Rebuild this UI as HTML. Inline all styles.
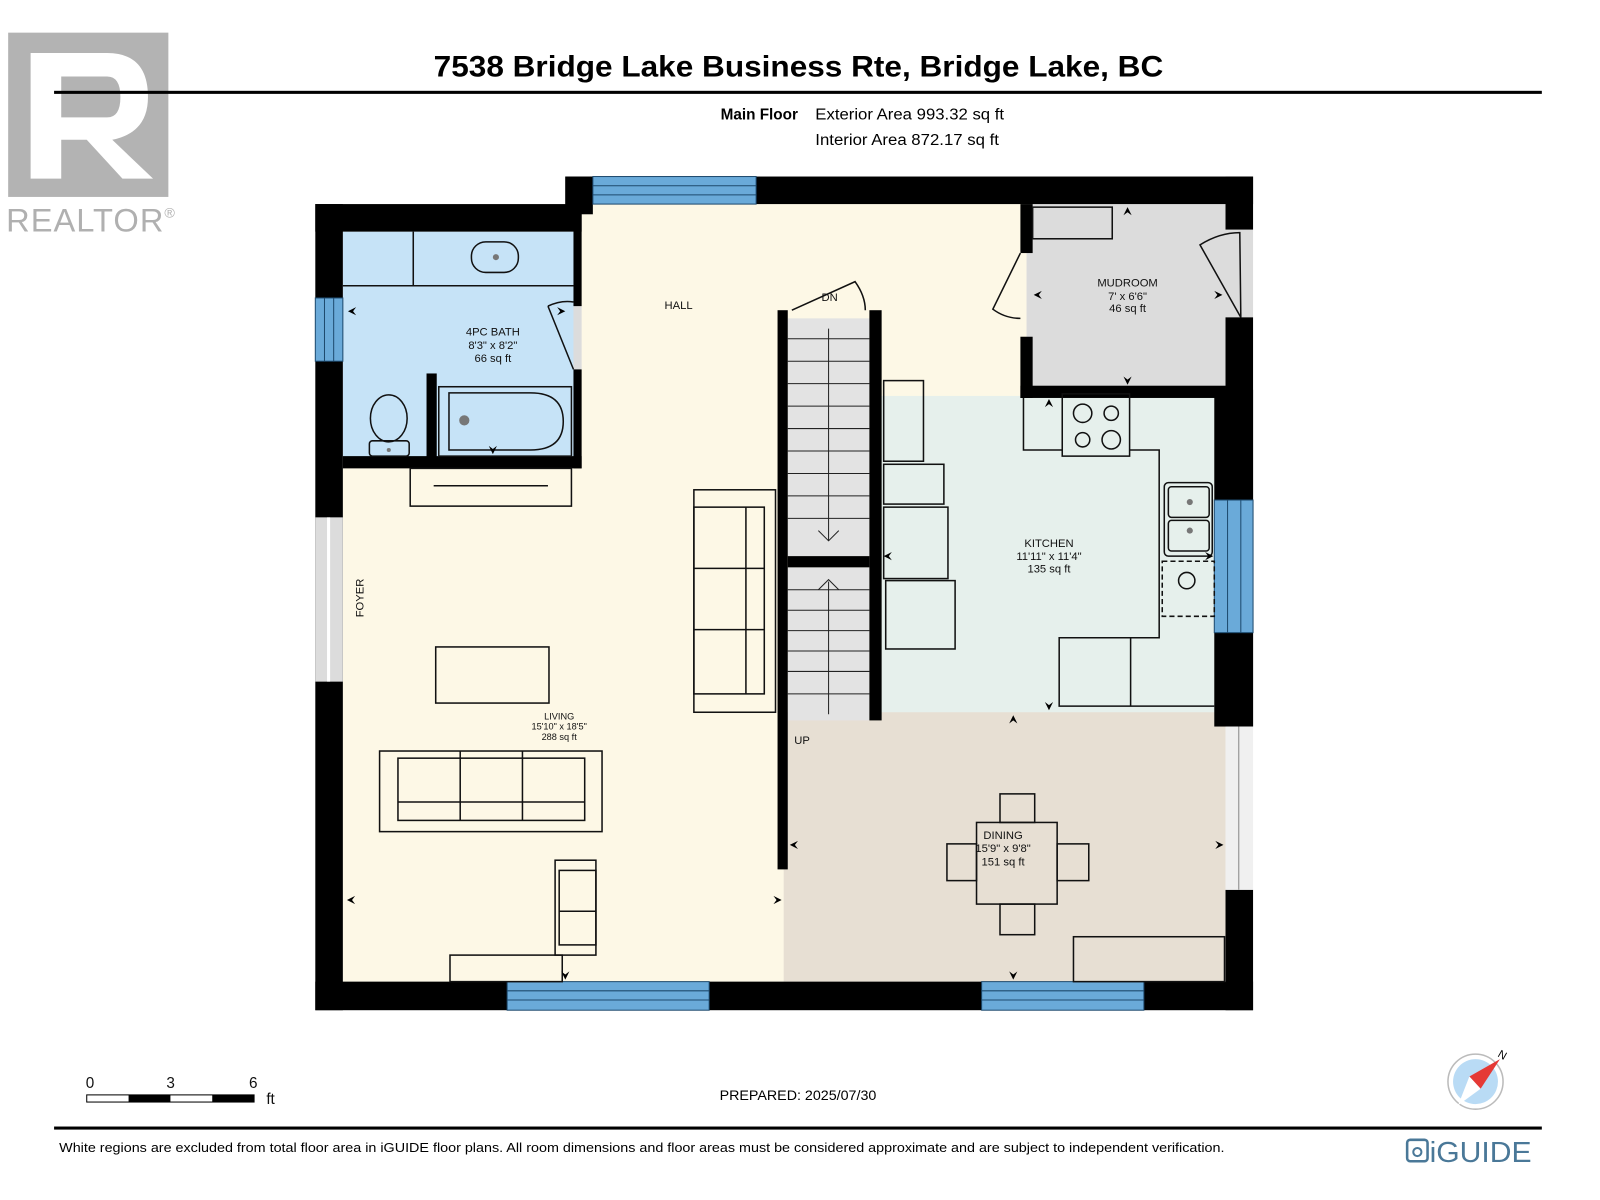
<!DOCTYPE html>
<html><head><meta charset="utf-8"><style>
html,body{margin:0;padding:0;background:#fff;}
svg{display:block;}
text{font-family:"Liberation Sans",Arial,sans-serif;}
</style></head><body>
<svg width="1600" height="1200" viewBox="0 0 1568 1176" xmlns="http://www.w3.org/2000/svg">
<rect width="1568" height="1176" fill="#fff"/>
<!-- REALTOR logo -->
<rect x="8" y="32" width="157" height="161" fill="#b3b3b3"/>
<path d="M30 52 H105 Q145 52 145 95 Q145 130 110 137 L150 175 H120 L85 137 H60 V175 H30 Z M60 75 V115 H105 Q118 115 118 95 Q118 75 105 75 Z" fill="#fff"/>
<text x="6" y="227" font-size="32" fill="#b0b0b0" letter-spacing="1">REALTOR<tspan font-size="14" dy="-14">®</tspan></text>
<!-- Title -->
<text x="425" y="75" font-size="29" font-weight="bold" textLength="715" lengthAdjust="spacingAndGlyphs">7538 Bridge Lake Business Rte, Bridge Lake, BC</text>
<rect x="53" y="89" width="1458" height="3" fill="#000"/>
<text x="782" y="117" font-size="15" font-weight="bold" text-anchor="end">Main Floor</text>
<text x="799" y="117" font-size="15" textLength="185" lengthAdjust="spacingAndGlyphs">Exterior Area 993.32 sq ft</text>
<text x="799" y="142" font-size="15" textLength="180" lengthAdjust="spacingAndGlyphs">Interior Area 872.17 sq ft</text>

<!-- floors -->
<rect x="336" y="200" width="670" height="762" fill="#fdf8e6"/>
<rect x="336" y="227" width="230" height="222" fill="#c6e3f7"/>
<rect x="1006" y="200" width="196" height="182" fill="#dcdcdc"/>
<rect x="862" y="388" width="330" height="312" fill="#e6f0ec"/>
<rect x="768" y="698" width="434" height="264" fill="#e7dfd3"/>
<rect x="1200" y="225" width="28" height="86" fill="#dcdcdc"/>
<rect x="562" y="300" width="8" height="62" fill="#dcdcdc"/>
<!-- stair treads -->
<rect x="772" y="312" width="80" height="233" fill="#e3e3e3"/>
<rect x="772" y="556" width="80" height="150" fill="#e3e3e3"/>
<g stroke="#222" stroke-width="1">
<line x1="772" y1="332" x2="852" y2="332"/><line x1="772" y1="354" x2="852" y2="354"/><line x1="772" y1="376" x2="852" y2="376"/><line x1="772" y1="398" x2="852" y2="398"/><line x1="772" y1="420" x2="852" y2="420"/><line x1="772" y1="442" x2="852" y2="442"/><line x1="772" y1="464" x2="852" y2="464"/><line x1="772" y1="486" x2="852" y2="486"/><line x1="772" y1="508" x2="852" y2="508"/>
<line x1="772" y1="578" x2="852" y2="578"/><line x1="772" y1="598" x2="852" y2="598"/><line x1="772" y1="618" x2="852" y2="618"/><line x1="772" y1="638" x2="852" y2="638"/><line x1="772" y1="658" x2="852" y2="658"/><line x1="772" y1="680" x2="852" y2="680"/>
<line x1="812" y1="322" x2="812" y2="530"/><polyline points="802,520 812,530 822,520" fill="none"/>
<line x1="812" y1="570" x2="812" y2="700"/><polyline points="802,578 812,568 822,578" fill="none"/>
</g>

<!-- walls -->
<g fill="#000">
<rect x="309" y="200" width="261" height="27"/>
<rect x="554" y="173" width="674" height="27"/>
<rect x="554" y="173" width="27" height="37"/>
<rect x="309" y="200" width="27" height="790"/>
<rect x="309" y="962" width="919" height="28"/>
<rect x="1201" y="173" width="27" height="52"/>
<rect x="1201" y="311" width="27" height="401"/>
<rect x="1190" y="382" width="38" height="330"/>
<rect x="1201" y="872" width="27" height="118"/>
<rect x="562" y="200" width="8" height="100"/>
<rect x="562" y="362" width="8" height="97"/>
<rect x="336" y="447" width="234" height="12"/>
<rect x="418" y="366" width="10" height="84"/>
<rect x="1000" y="200" width="12" height="48"/>
<rect x="1000" y="330" width="12" height="60"/>
<rect x="1000" y="378" width="201" height="12"/>
<rect x="762" y="304" width="10" height="548"/>
<rect x="852" y="304" width="12" height="402"/>
<rect x="772" y="545" width="80" height="11"/>
</g>
<!-- windows -->
<g fill="#6aaad9" stroke="#1e4a6e" stroke-width="1">
<rect x="581" y="173" width="160" height="27"/><line x1="581" y1="182" x2="741" y2="182"/><line x1="581" y1="191" x2="741" y2="191"/>
<rect x="309" y="292" width="27" height="62"/><line x1="318" y1="292" x2="318" y2="354"/><line x1="327" y1="292" x2="327" y2="354"/>
<rect x="1190" y="490" width="38" height="130"/><line x1="1203" y1="490" x2="1203" y2="620"/><line x1="1216" y1="490" x2="1216" y2="620"/>
<rect x="497" y="962" width="198" height="28"/><line x1="497" y1="971" x2="695" y2="971"/><line x1="497" y1="980" x2="695" y2="980"/>
<rect x="962" y="962" width="159" height="28"/><line x1="962" y1="971" x2="1121" y2="971"/><line x1="962" y1="980" x2="1121" y2="980"/>
</g>
<rect x="309" y="507" width="27" height="161" fill="#dcdcdc"/><line x1="322" y1="507" x2="322" y2="668" stroke="#fff" stroke-width="3"/>
<rect x="1201" y="712" width="27" height="160" fill="#f0f0f0"/><line x1="1214" y1="712" x2="1214" y2="872" stroke="#888" stroke-width="1"/>

<g fill="none" stroke="#111" stroke-width="1.5">
<line x1="336" y1="280" x2="562" y2="280"/><line x1="405" y1="227" x2="405" y2="280"/>
<rect x="462" y="237" width="46" height="30" rx="14"/>
<rect x="430" y="379" width="130" height="68"/><path d="M440 385 H520 Q552 385 552 413 Q552 441 520 441 H440 Z"/>
<ellipse cx="381" cy="410" rx="18" ry="23"/><rect x="362" y="432" width="39" height="15" rx="3"/>
<line x1="537" y1="300" x2="562" y2="362"/><path d="M537 300 Q550 294 562 296"/>
<rect x="402" y="459" width="158" height="37"/>
<line x1="425" y1="476" x2="537" y2="476"/>
<rect x="427" y="634" width="111" height="55"/>
<rect x="372" y="736" width="218" height="79"/><rect x="390" y="743" width="183" height="61"/>
<line x1="451" y1="736" x2="451" y2="804"/><line x1="512" y1="736" x2="512" y2="804"/><line x1="390" y1="786" x2="573" y2="786"/>
<rect x="680" y="480" width="80" height="218"/><rect x="680" y="497" width="69" height="183"/>
<line x1="680" y1="557" x2="749" y2="557"/><line x1="680" y1="617" x2="749" y2="617"/><line x1="731" y1="497" x2="731" y2="680"/>
<rect x="544" y="843" width="40" height="93"/><rect x="548" y="853" width="36" height="73"/><line x1="548" y1="893" x2="584" y2="893"/>
<rect x="441" y="936" width="110" height="26"/>
<path d="M776 304 L838 276 Q848 290 848 304"/>
<rect x="866" y="373" width="39" height="79"/>
<rect x="866" y="455" width="59" height="39"/>
<rect x="866" y="497" width="63" height="70"/>
<rect x="868" y="569" width="68" height="67"/>
<polyline points="1003,390 1003,441 1041,441"/>
<rect x="1041" y="386" width="66" height="61"/>
<polyline points="1107,441 1136,441 1136,625 1038,625 1038,692 1190,692"/>
<line x1="1108" y1="625" x2="1108" y2="692"/>
<circle cx="1061" cy="405" r="9"/><circle cx="1089" cy="405" r="7"/><circle cx="1061" cy="431" r="7"/><circle cx="1089" cy="431" r="9"/>
<rect x="1141" y="473" width="47" height="72" rx="4"/><rect x="1145" y="477" width="40" height="30" rx="3"/><rect x="1145" y="510" width="40" height="30" rx="3"/>
<rect x="1139" y="550" width="51" height="54" stroke-dasharray="5,3"/><circle cx="1163" cy="569" r="8"/>
<rect x="1012" y="203" width="78" height="31"/>
<path d="M1000 248 L973 303 Q985 312 1000 312"/>
<path d="M1176 240 Q1195 228 1215 228 L1216 311 Z" stroke-width="1.5"/>
<rect x="957" y="806" width="79" height="80"/>
<rect x="980" y="778" width="34" height="28"/><rect x="980" y="886" width="34" height="30"/>
<rect x="928" y="827" width="29" height="36"/><rect x="1036" y="827" width="31" height="36"/>
<rect x="1052" y="918" width="148" height="44"/>
</g>
<g fill="#777"><circle cx="486" cy="252" r="3"/><circle cx="455" cy="412" r="5"/><circle cx="381" cy="441" r="2"/><circle cx="1166" cy="492" r="3"/><circle cx="1166" cy="520" r="3"/></g>

<g fill="#000">
<path d="M341 305 l8 -4 l-3 4 l3 4z"/><path d="M554 305 l-8 -4 l3 4 l-3 4z"/>
<path d="M483 445 l-4 -8 l4 3 l4 -3z"/>
<path d="M340 882 l8 -4 l-3 4 l3 4z"/><path d="M766 882 l-8 -4 l3 4 l-3 4z"/>
<path d="M554 960 l-4 -8 l4 3 l4 -3z"/>
<path d="M1013 289 l8 -4 l-3 4 l3 4z"/><path d="M1198 289 l-8 -4 l3 4 l-3 4z"/>
<path d="M1105 203 l-4 8 l4 -3 l4 3z"/><path d="M1105 377 l-4 -8 l4 3 l4 -3z"/>
<path d="M1028 391 l-4 8 l4 -3 l4 3z"/><path d="M1028 696 l-4 -8 l4 3 l4 -3z"/>
<path d="M866 545 l8 -4 l-3 4 l3 4z"/><path d="M1189 545 l-8 -4 l3 4 l-3 4z"/>
<path d="M993 701 l-4 8 l4 -3 l4 3z"/><path d="M993 960 l-4 -8 l4 3 l4 -3z"/>
<path d="M774 828 l8 -4 l-3 4 l3 4z"/><path d="M1199 828 l-8 -4 l3 4 l-3 4z"/>
</g>

<g font-size="11" fill="#111" text-anchor="middle">
<text x="665" y="303">HALL</text>
<text x="483" y="329">4PC BATH</text><text x="483" y="342">8'3" x 8'2"</text><text x="483" y="355">66 sq ft</text>
<text x="1105" y="281">MUDROOM</text><text x="1105" y="294">7' x 6'6"</text><text x="1105" y="306">46 sq ft</text>
<text x="1028" y="536">KITCHEN</text><text x="1028" y="549">11'11" x 11'4"</text><text x="1028" y="561">135 sq ft</text>
<text x="983" y="822">DINING</text><text x="983" y="835">15'9" x 9'8"</text><text x="983" y="848">151 sq ft</text>
<text x="813" y="295">DN</text>
<text x="786" y="729">UP</text>
<text x="356" y="586" transform="rotate(-90 356 586)">FOYER</text>
</g>
<g font-size="9" fill="#111" text-anchor="middle">
<text x="548" y="705">LIVING</text><text x="548" y="715">15'10" x 18'5"</text><text x="548" y="725">288 sq ft</text>
</g>

<g font-size="15" fill="#111">
<text x="84" y="1066">0</text><text x="163" y="1066">3</text><text x="244" y="1066">6</text><text x="261" y="1082">ft</text>
</g>
<rect x="85" y="1073" width="164" height="7" fill="#fff" stroke="#000" stroke-width="1"/>
<rect x="126" y="1073" width="41" height="7" fill="#000"/><rect x="208" y="1073" width="41" height="7" fill="#000"/>
<text x="782" y="1078" font-size="14" text-anchor="middle">PREPARED: 2025/07/30</text>
<circle cx="1446" cy="1060" r="27" fill="#fff" stroke="#bbb" stroke-width="1.5"/>
<circle cx="1446" cy="1060" r="22" fill="#b9dbf5"/>
<path d="M1470 1038 L1451 1067 L1440 1055 Z" fill="#e53935"/>
<path d="M1451 1067 L1440 1055 L1429 1083 Z" fill="#fff"/>
<text x="1467" y="1035" font-size="11" transform="rotate(30 1467 1035)">N</text>
<rect x="53" y="1104" width="1458" height="3" fill="#000"/>
<text x="58" y="1129" font-size="13" textLength="1142" lengthAdjust="spacingAndGlyphs">White regions are excluded from total floor area in iGUIDE floor plans. All room dimensions and floor areas must be considered approximate and are subject to independent verification.</text>
<rect x="1379" y="1117" width="20" height="21" rx="3" fill="none" stroke="#4a7898" stroke-width="2.5"/>
<circle cx="1389" cy="1129" r="4" fill="none" stroke="#4a7898" stroke-width="2"/>
<text x="1401" y="1139" font-size="28" fill="#4a7898" textLength="100" lengthAdjust="spacingAndGlyphs">iGUIDE</text>
</svg>
</body></html>
